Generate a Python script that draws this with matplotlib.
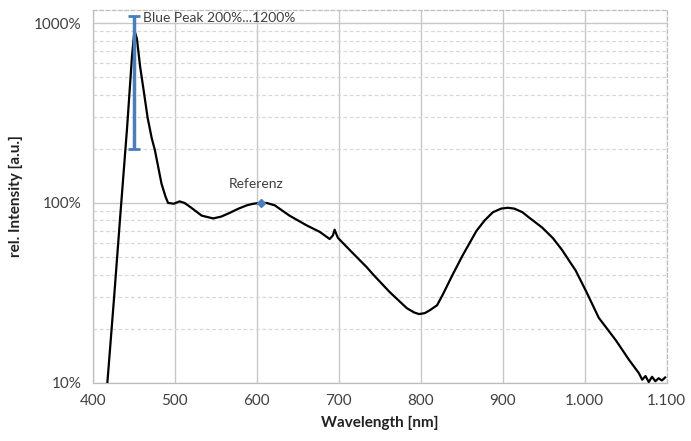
import numpy as np
import matplotlib.pyplot as plt
from matplotlib.ticker import FixedLocator, FuncFormatter, NullFormatter

plt.rcParams['font.family'] = ['Lato', 'DejaVu Sans']

# Spektrum (Wellenlänge in nm, rel. Intensität in %)
wl = [418, 426, 434, 442, 448, 451, 454, 458, 463, 467, 472, 476, 484, 489,
      492, 499, 506, 512, 519, 533, 547, 557, 567, 578, 588, 596, 604, 612,
      622, 640, 661, 677, 689, 693, 695, 699, 713, 734, 742, 762, 783, 792,
      798, 805, 811, 820, 827, 839, 851, 868, 878, 888, 898, 906, 914, 924,
      932, 948, 961, 972, 989, 1002, 1017, 1038, 1054, 1066, 1070, 1074,
      1078, 1082, 1086, 1090, 1094, 1098]
val = [10, 29, 88, 260, 650, 910, 820, 570, 400, 299, 230, 196, 128, 108,
       100, 99, 102, 100, 95, 85, 82, 84, 88, 93, 97, 99, 100, 100,
       97, 85, 75, 69, 63, 66, 71, 64, 55, 44, 40, 32, 26, 24.6,
       24.1, 24.4, 25.3, 27, 31, 40, 51, 70, 80, 88.8, 93, 94, 93, 88.8,
       83, 73, 63.8, 55, 42, 32, 23, 17.2, 13.4, 11.3, 10.4, 10.9,
       10.1, 10.8, 10.2, 10.6, 10.3, 10.7]

peak_x = 450
peak_lo, peak_hi = 200, 1100
ref_x, ref_y = 605, 100

x_ticks = [400, 500, 600, 700, 800, 900, 1000, 1100]
y_ticks = [10, 100, 1000]

blue = '#4a7ebb'
grid_c = '#c8c8c8'

fig = plt.figure(figsize=(6.91, 4.41), dpi=100)
ax = fig.add_axes([0.134, 0.132, 0.831, 0.845])

ax.set_yscale('log')
ax.set_xlim(400, 1100)
ax.set_ylim(10, 1180)

# Gitter
ax.set_xticks(x_ticks)
ax.yaxis.set_major_locator(FixedLocator(y_ticks))
minors = [m * d for d in (10, 100, 1000) for m in range(2, 10)]
ax.yaxis.set_minor_locator(FixedLocator(minors))
ax.yaxis.set_minor_formatter(NullFormatter())
ax.grid(True, which='major', color=grid_c, lw=1.0)
ax.grid(True, which='minor', axis='y', color='#d8d8d8', lw=0.9, ls=(0, (3, 2)))
ax.set_axisbelow(True)

ax.xaxis.set_major_formatter(FuncFormatter(lambda v, p: f'{int(v):,}'.replace(',', '.')))
ax.yaxis.set_major_formatter(FuncFormatter(lambda v, p: f'{int(v)}%'))
ax.tick_params(which='both', length=0, labelsize=11, colors='#404040', pad=8)

for s in ax.spines.values():
    s.set_color('#bdbdbd')
    s.set_linewidth(0.9)
ax.spines['top'].set_linestyle((0, (3, 2)))
ax.spines['right'].set_linestyle((0, (3, 2)))

ax.plot(wl, val, color='black', lw=1.6, zorder=3)

# Blue Peak Fehlerbalken
mid = np.sqrt(peak_lo * peak_hi)
ax.errorbar([peak_x], [mid], yerr=[[mid - peak_lo], [peak_hi - mid]],
            fmt='none', ecolor=blue, elinewidth=2.5, capsize=4, capthick=2, zorder=4)
ax.text(461, 1065, 'Blue Peak 200%...1200%', fontsize=10, color='#404040', va='center', ha='left')

# Referenz
ax.plot([ref_x], [ref_y], marker='D', ms=4, color=blue, zorder=5)
ax.text(ref_x - 6, 128, 'Referenz', fontsize=10, color='#404040', ha='center', va='center')

ax.set_xlabel('Wavelength [nm]', fontsize=11, fontweight='bold', color='#222222', labelpad=6)
ax.set_ylabel('rel. Intensity [a.u.]', fontsize=11, fontweight='bold', color='#222222', labelpad=8)

fig.savefig('out.png', dpi=100)
